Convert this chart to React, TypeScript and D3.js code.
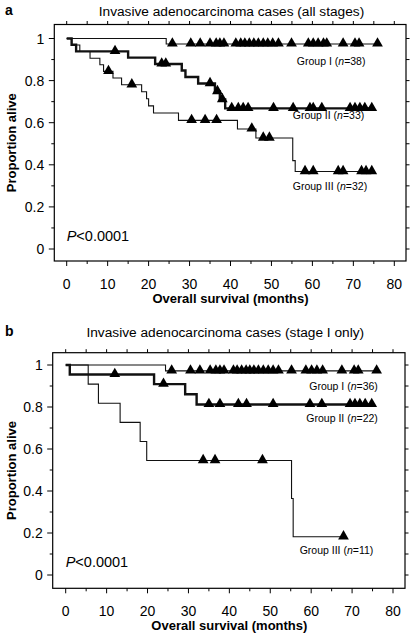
import React from 'react';
import * as d3 from 'd3';

// ---------- axis ticks ----------
const monthTicks = [0, 10, 20, 30, 40, 50, 60, 70, 80];
const monthMinor = [5, 15, 25, 35, 45, 55, 65, 75];
const propTicks = [0, 0.2, 0.4, 0.6, 0.8, 1];
const propMinor = [0.1, 0.3, 0.5, 0.7, 0.9];

// ---------- panel a : all stages ----------
const aG1Time = [0, 24.3];
const aG1Surv = [1, 0.974];
const aG1Cens = [25.8, 30.3, 32.6, 35.0, 36.5, 37.4, 38.4, 41.3, 42.5, 43.5, 44.6, 45.7, 46.8, 48.0, 49.1, 50.3, 51.7, 54.9, 59.0, 60.2, 61.4, 62.7, 63.5, 67.5, 70.4, 71.4, 75.9];

const aG2Time = [0, 1.2, 2.3, 15.0, 21.6, 28.1, 29.0, 32.1, 36.2, 37.4, 38.7];
const aG2Surv = [1, 0.970, 0.939, 0.909, 0.879, 0.848, 0.817, 0.786, 0.748, 0.710, 0.668];
const aG2Cens = [11.8, 23.2, 24.2, 35.0, 36.8, 38.0, 40.3, 41.9, 43.1, 44.3, 50.5, 55.3, 59.4, 60.2, 62.3, 69.2, 70.4, 71.6, 72.8, 74.5];

const aG3Time = [0, 1.2, 3.2, 5.7, 8.1, 9.0, 11.3, 13.4, 18.3, 19.5, 20.0, 21.2, 27.3, 41.7, 46.2, 55.2, 55.8];
const aG3Surv = [1, 0.969, 0.938, 0.906, 0.875, 0.844, 0.812, 0.780, 0.747, 0.714, 0.680, 0.646, 0.611, 0.570, 0.527, 0.420, 0.368];
const aG3Cens = [10.2, 15.9, 30.5, 33.8, 36.6, 45.2, 48.0, 49.5, 58.2, 60.2, 66.3, 67.5, 72.0, 73.1, 74.5];

// ---------- panel b : stage I only ----------
const bG1Time = [0, 24.4];
const bG1Surv = [1, 0.972];
const bG1Cens = [25.9, 30.5, 32.8, 35.3, 36.7, 37.7, 38.7, 41.0, 41.9, 43.0, 44.1, 45.0, 46.0, 47.1, 48.3, 49.5, 50.7, 52.0, 55.2, 58.7, 60.1, 61.4, 62.8, 67.5, 70.5, 71.5, 76.0];

const bG2Time = [0, 1.0, 21.6, 29.2, 32.0];
const bG2Surv = [1, 0.955, 0.909, 0.861, 0.812];
const bG2Cens = [12.0, 23.9, 35.0, 37.7, 42.2, 44.2, 50.7, 59.7, 62.6, 69.5, 70.7, 71.9, 73.2, 74.8];

const bG3Time = [0, 5.5, 8.0, 13.3, 18.2, 19.8, 55.2, 55.6];
const bG3Surv = [1, 0.909, 0.818, 0.727, 0.636, 0.545, 0.364, 0.182];
const bG3Cens = [33.6, 36.5, 48.1, 67.9];

type Group = { time: number[]; surv: number[]; cens: number[]; thick: boolean };

const FONT = "'Liberation Sans', Arial, Helvetica, sans-serif";

function survAt(g: Group, t: number) {
  const i = d3.bisectRight(g.time, t) - 1;
  return g.surv[Math.max(0, i)];
}

type PanelProps = {
  letter: string;
  title: string;
  titleX: number;
  titleY: number;
  box: { left: number; right: number; top: number; bottom: number };
  xr: [number, number];
  yr: [number, number];
  groups: Group[];
  labels: { text: string; n: string; m: number; p: number; anchor: 'start' | 'end' }[];
};

function Panel({ letter, title, titleX, titleY, box, xr, yr, groups, labels }: PanelProps) {
  const x = d3.scaleLinear().domain([0, 80]).range(xr);
  const y = d3.scaleLinear().domain([0, 1]).range(yr);
  const line = d3
    .line<[number, number]>()
    .x((d) => x(d[0]))
    .y((d) => y(d[1]))
    .curve(d3.curveStepAfter);
  const tri = d3.symbol().type(d3.symbolTriangle).size(50)();

  return (
    <g>
      <text x={5} y={titleY + 4} fontFamily={FONT} fontWeight="bold" fontSize={14}>
        {letter}
      </text>
      <text x={titleX} y={titleY + 5} textAnchor="middle" fontFamily={FONT} fontSize={13.7}>
        {title}
      </text>
      <rect
        x={box.left}
        y={box.top}
        width={box.right - box.left}
        height={box.bottom - box.top}
        fill="none"
        stroke="#000"
        strokeWidth={1.2}
      />
      {/* x ticks */}
      {monthTicks.map((m) => (
        <g key={'xt' + m}>
          <line x1={x(m)} x2={x(m)} y1={box.bottom} y2={box.bottom + 5} stroke="#000" />
          <line x1={x(m)} x2={x(m)} y1={box.top} y2={box.top - 3.5} stroke="#000" />
          <text x={x(m)} y={box.bottom + 27.5} textAnchor="middle" fontFamily={FONT} fontSize={14}>
            {m}
          </text>
        </g>
      ))}
      {monthMinor.map((m) => (
        <g key={'xm' + m}>
          <line x1={x(m)} x2={x(m)} y1={box.bottom} y2={box.bottom + 3} stroke="#000" />
          <line x1={x(m)} x2={x(m)} y1={box.top} y2={box.top - 3.5} stroke="#000" />
        </g>
      ))}
      {/* y ticks */}
      {propTicks.map((p) => (
        <g key={'yt' + p}>
          <line x1={box.left} x2={box.left - 5.5} y1={y(p)} y2={y(p)} stroke="#000" />
          <line x1={box.right} x2={box.right + 3.5} y1={y(p)} y2={y(p)} stroke="#000" />
          <text x={box.left - 10} y={y(p) + 5} textAnchor="end" fontFamily={FONT} fontSize={14}>
            {p === 0 || p === 1 ? String(p) : p.toFixed(1)}
          </text>
        </g>
      ))}
      {propMinor.map((p) => (
        <g key={'ym' + p}>
          <line x1={box.left} x2={box.left - 3} y1={y(p)} y2={y(p)} stroke="#000" />
          <line x1={box.right} x2={box.right + 3.5} y1={y(p)} y2={y(p)} stroke="#000" />
        </g>
      ))}
      {/* axis titles */}
      <text
        x={(xr[0] + xr[1]) / 2}
        y={box.bottom + 41.5}
        textAnchor="middle"
        fontFamily={FONT}
        fontWeight="bold"
        fontSize={13}
      >
        Overall survival (months)
      </text>
      <text
        transform={`translate(15.5,${(box.top + box.bottom) / 2}) rotate(-90)`}
        textAnchor="middle"
        fontFamily={FONT}
        fontWeight="bold"
        fontSize={13}
      >
        Proportion alive
      </text>
      {/* curves */}
      {groups.map((g, gi) => {
        const end = g.cens[g.cens.length - 1];
        const pts: [number, number][] = g.time.map((t, i) => [t, g.surv[i]] as [number, number]);
        pts.push([end, g.surv[g.surv.length - 1]]);
        return (
          <g key={'g' + gi}>
            <path
              d={line(pts) || ''}
              fill="none"
              stroke="#111"
              strokeWidth={g.thick ? 2.4 : 1.1}
            />
            {g.cens.map((c, ci) => (
              <path
                key={ci}
                d={tri || ''}
                transform={`translate(${x(c)},${y(survAt(g, c)) - 0.5})`}
                fill="#000"
              />
            ))}
          </g>
        );
      })}
      {labels.map((l, i) => (
        <text
          key={'l' + i}
          x={x(l.m)}
          y={y(l.p) + 3.8}
          textAnchor={l.anchor}
          fontFamily={FONT}
          fontSize={10.5}
        >
          {l.text} (<tspan fontStyle="italic">n</tspan>={l.n})
        </text>
      ))}
      <text x={x(0)} y={y(0.06) + 5} fontFamily={FONT} fontSize={14.5}>
        <tspan fontStyle="italic">P</tspan>&lt;0.0001
      </text>
    </g>
  );
}

export default function App() {
  const groupsA: Group[] = [
    { time: aG1Time, surv: aG1Surv, cens: aG1Cens, thick: false },
    { time: aG3Time, surv: aG3Surv, cens: aG3Cens, thick: false },
    { time: aG2Time, surv: aG2Surv, cens: aG2Cens, thick: true },
  ];
  const groupsB: Group[] = [
    { time: bG1Time, surv: bG1Surv, cens: bG1Cens, thick: false },
    { time: bG3Time, surv: bG3Surv, cens: bG3Cens, thick: false },
    { time: bG2Time, surv: bG2Surv, cens: bG2Cens, thick: true },
  ];
  return (
    <svg
      width={413}
      height={633}
      style={{ position: 'absolute', left: 0, top: 0, background: '#fff' }}
    >
      <rect width={413} height={633} fill="#fff" />
      <Panel
        letter="a"
        title="Invasive adenocarcinoma cases (all stages)"
        titleX={231.5}
        titleY={11}
        box={{ left: 54.3, right: 406, top: 24.5, bottom: 261 }}
        xr={[66.7, 394.3]}
        yr={[249, 38.5]}
        groups={groupsA}
        labels={[
          { text: 'Group I', n: '38', m: 56.2, p: 0.893, anchor: 'start' },
          { text: 'Group II', n: '33', m: 55.2, p: 0.637, anchor: 'start' },
          { text: 'Group III', n: '32', m: 55.2, p: 0.3, anchor: 'start' },
        ]}
      />
      <Panel
        letter="b"
        title="Invasive adenocarcinoma cases (stage I only)"
        titleX={225.3}
        titleY={332}
        box={{ left: 52.7, right: 405, top: 352.7, bottom: 588.3 }}
        xr={[65.7, 393]}
        yr={[575, 365]}
        groups={groupsB}
        labels={[
          { text: 'Group I', n: '36', m: 76.3, p: 0.9, anchor: 'end' },
          { text: 'Group II', n: '22', m: 76.3, p: 0.746, anchor: 'end' },
          { text: 'Group III', n: '11', m: 75.2, p: 0.119, anchor: 'end' },
        ]}
      />
    </svg>
  );
}
